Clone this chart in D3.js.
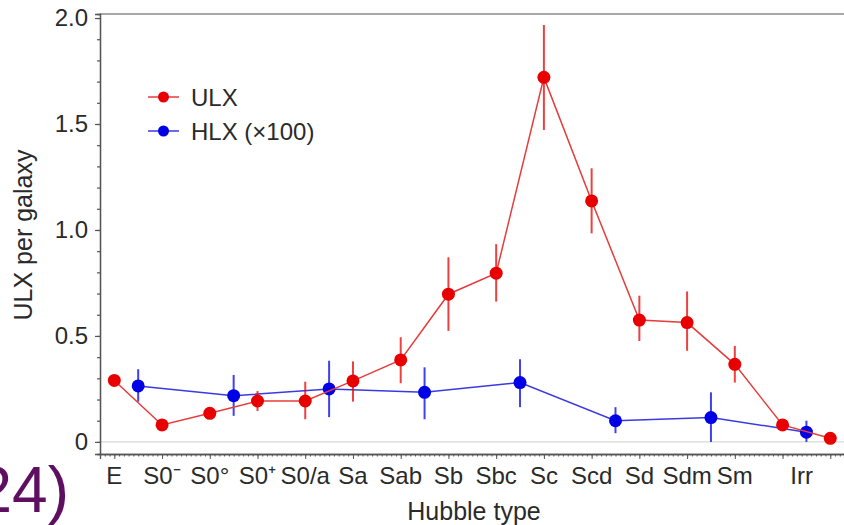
<!DOCTYPE html>
<html>
<head>
<meta charset="utf-8">
<script src="https://cdn.jsdelivr.net/npm/d3@7"></script>
<style>
  html, body { margin: 0; padding: 0; background: #fff; }
  svg { display: block; }
  text { font-family: "Liberation Sans", Arial, sans-serif; fill: #2a2a2a; }
</style>
</head>
<body>
<svg id="chart" width="844" height="525"></svg>
<script>
// Hubble-type categories and where their labels sit on the x axis
const categories = ["E", "S0\u207B", "S0\u00B0", "S0\u207A", "S0/a", "Sa", "Sab", "Sb", "Sbc", "Sc", "Scd", "Sd", "Sdm", "Sm", "Irr"];
const categoryPos = [0, 1, 2, 3, 4, 5, 6, 7, 8, 9, 10, 11, 12, 13, 14.4];

// ULX per galaxy, with error bar bounds
const ulxPos   = [0, 1, 2, 3, 4, 5, 6, 7, 8, 9, 10, 11, 12, 13, 14, 15];
const ulxValue = [0.29, 0.08, 0.135, 0.193, 0.193, 0.288, 0.387, 0.697, 0.796, 1.72, 1.137, 0.575, 0.563, 0.366, 0.08, 0.017];
const ulxLow   = [0.27, 0.06, 0.11, 0.146, 0.107, 0.19, 0.277, 0.524, 0.662, 1.472, 0.984, 0.476, 0.43, 0.28, 0.06, 0.005];
const ulxHigh  = [0.31, 0.10, 0.16, 0.24, 0.284, 0.38, 0.494, 0.871, 0.933, 1.967, 1.291, 0.69, 0.71, 0.453, 0.10, 0.03];

// HLX per galaxy (x100), with error bar bounds
const hlxPos   = [0.5, 2.5, 4.5, 6.5, 8.5, 10.5, 12.5, 14.5];
const hlxValue = [0.264, 0.218, 0.25, 0.234, 0.28, 0.10, 0.115, 0.046];
const hlxLow   = [0.19, 0.123, 0.117, 0.107, 0.164, 0.041, 0.0, 0.0];
const hlxHigh  = [0.343, 0.316, 0.383, 0.352, 0.39, 0.164, 0.234, 0.10];

const yMajor = [0, 0.5, 1.0, 1.5, 2.0];
const yMajorLabels = ["0", "0.5", "1.0", "1.5", "2.0"];

const svg = d3.select("#chart");

const x = d3.scaleLinear().domain([-0.3, 15.3]).range([100, 844.6]);
const y = d3.scaleLinear().domain([-0.057, 2.019]).range([454, 14]);

const RED = "#e80000", RED_LINE = "#e63c3c";
const BLUE = "#0000e6", BLUE_LINE = "#3a3ae0";

// frame: top border and zero reference line
svg.append("line").attr("x1", x(-0.3)).attr("x2", 844).attr("y1", y(2.019)).attr("y2", y(2.019))
  .attr("stroke", "#8a8a8a").attr("stroke-width", 1.5);
svg.append("line").attr("x1", x(-0.3)).attr("x2", 844).attr("y1", y(0)).attr("y2", y(0))
  .attr("stroke", "#cfcfcf").attr("stroke-width", 1);

// y axis: major ticks labelled, minor ticks every 0.1
const yAxisMinor = d3.axisLeft(y).tickValues(d3.range(0, 2.01, 0.1)).tickSize(3).tickFormat("");
const gyMinor = svg.append("g").attr("transform", `translate(${x(-0.3)},0)`).call(yAxisMinor);
const yAxis = d3.axisLeft(y).tickValues(yMajor).tickSize(5).tickPadding(7)
  .tickFormat((d, i) => yMajorLabels[i]);
const gy = svg.append("g").attr("transform", `translate(${x(-0.3)},0)`).call(yAxis);
gy.selectAll("text").style("font-size", "24px").style("font-family", "Liberation Sans, Arial, sans-serif").attr("fill", "#2a2a2a");
[gy, gyMinor].forEach(g => {
  g.select(".domain").attr("stroke", "#555").attr("stroke-width", 1.3);
  g.selectAll(".tick line").attr("stroke", "#555").attr("stroke-width", 1.2);
});

// x axis: minor ticks every 0.1, major ticks at each type
const xAxisMinor = d3.axisBottom(x).tickValues(d3.range(-0.2, 15.31, 0.1)).tickSize(2.5).tickFormat("");
const gxMinor = svg.append("g").attr("transform", `translate(0,${y(-0.057)})`).call(xAxisMinor);
const xAxisMajor = d3.axisBottom(x).tickValues(d3.range(0, 16, 1)).tickSize(5).tickFormat("");
const gxMajor = svg.append("g").attr("transform", `translate(0,${y(-0.057)})`).call(xAxisMajor);
[gxMinor, gxMajor].forEach(g => {
  g.select(".domain").attr("stroke", "#555").attr("stroke-width", 1.3);
  g.selectAll(".tick line").attr("stroke", "#555").attr("stroke-width", 1);
});
svg.append("g").selectAll("text").data(categories).join("text")
  .attr("x", (d, i) => x(categoryPos[i]))
  .attr("y", 484)
  .attr("text-anchor", "middle")
  .style("font-size", "24px")
  .text(d => d);

// axis titles
svg.append("text").attr("x", 474).attr("y", 520).attr("text-anchor", "middle")
  .style("font-size", "25px").text("Hubble type");
svg.append("text").attr("transform", "translate(32,235) rotate(-90)").attr("text-anchor", "middle")
  .style("font-size", "25px").text("ULX per galaxy");

// series drawing helper
function drawSeries(pos, val, lo, hi, lineColor, markColor) {
  const g = svg.append("g");
  g.selectAll("line.err").data(pos).join("line").attr("class", "err")
    .attr("x1", d => x(d)).attr("x2", d => x(d))
    .attr("y1", (d, i) => y(lo[i])).attr("y2", (d, i) => y(hi[i]))
    .attr("stroke", markColor).attr("stroke-width", 2).attr("stroke-opacity", 0.75);
  const line = d3.line().x(d => x(d[0])).y(d => y(d[1]));
  g.append("path").datum(pos.map((p, i) => [p, val[i]]))
    .attr("d", line).attr("fill", "none").attr("stroke", lineColor).attr("stroke-width", 1.5);
  g.selectAll("circle").data(pos).join("circle")
    .attr("cx", d => x(d)).attr("cy", (d, i) => y(val[i])).attr("r", 6.5)
    .attr("fill", markColor);
}
drawSeries(hlxPos, hlxValue, hlxLow, hlxHigh, BLUE_LINE, BLUE);
drawSeries(ulxPos, ulxValue, ulxLow, ulxHigh, RED_LINE, RED);

// legend
const legend = [
  { label: "ULX", line: RED_LINE, mark: RED, y: 97 },
  { label: "HLX (\u00D7100)", line: BLUE_LINE, mark: BLUE, y: 131 }
];
const lg = svg.append("g");
legend.forEach(d => {
  lg.append("line").attr("x1", 148).attr("x2", 179).attr("y1", d.y).attr("y2", d.y)
    .attr("stroke", d.line).attr("stroke-width", 1.5);
  lg.append("circle").attr("cx", 163.5).attr("cy", d.y).attr("r", 5.5).attr("fill", d.mark);
  lg.append("text").attr("x", 191).attr("y", d.y + 9).style("font-size", "24px").text(d.label);
});

// slide footer fragment
svg.append("text").attr("x", 69).attr("y", 512).attr("text-anchor", "end")
  .style("font-size", "64px").style("fill", "#5f0f5f").text("24)");
</script>
</body>
</html>
